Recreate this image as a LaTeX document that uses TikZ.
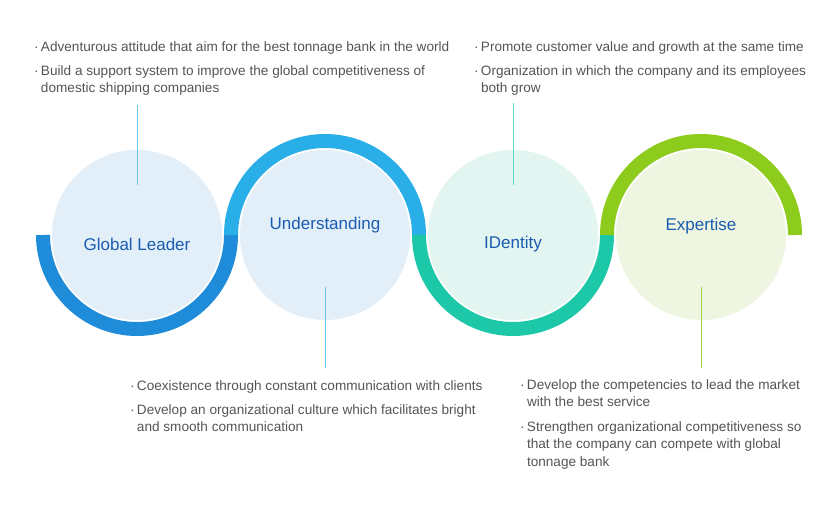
\documentclass[tikz,border=0pt]{standalone}
\usepackage{fontspec}
\setmainfont{Liberation Sans}
\definecolor{txtgray}{HTML}{555555}
\definecolor{lblblue}{HTML}{1A5CB0}
\definecolor{arcone}{HTML}{1E8CD8}
\definecolor{arctwo}{HTML}{2AAEE8}
\definecolor{arcthree}{HTML}{1CC8A8}
\definecolor{arcfour}{HTML}{8DCB1C}
\definecolor{fillone}{HTML}{E2EEF8}
\definecolor{fillthree}{HTML}{E2F5F0}
\definecolor{fillfour}{HTML}{EEF5E0}
\tikzset{
  bub/.style={circle,minimum size=170pt,inner sep=0pt},
  lbl/.style={text=lblblue,font=\fontsize{17}{18}\selectfont},
  ring/.style={line width=14pt},
  stem/.style={line width=0.8pt},
  note/.style={text=txtgray,font=\fontsize{13.6}{17.5}\selectfont,align=left,anchor=north west,inner sep=0pt},
}
\begin{document}
\begin{tikzpicture}[x=1pt,y=1pt]
\useasboundingbox[fill=white] (0,0) rectangle (840,508);
% light discs
\node[bub,fill=fillone] (gl) at (137,273) {};
\node[bub,fill=fillone] (un) at (325,273) {};
\node[bub,fill=fillthree] (id) at (513,273) {};
\node[bub,fill=fillfour] (ex) at (701,273) {};
% rings
\draw[ring,arcone] (43,273) arc (180:360:94);
\draw[ring,arctwo] (231,273) arc (180:0:94);
\draw[ring,arcthree] (419,273) arc (180:360:94);
\draw[ring,arcfour] (607,273) arc (180:0:94);
% labels
\node[lbl] at (137,264) {Global Leader};
\node[lbl] at (325,283) {Understanding};
\node[lbl] at (513,264) {IDentity};
\node[lbl] at (701,282) {Expertise};
% stems
\coordinate (gltop) at (137,403);
\coordinate (untop) at (325,140);
\coordinate (idtop) at (513,405);
\coordinate (extop) at (701,140);
\draw[stem,arctwo!70] (gltop) -- (137,323);
\draw[stem,arctwo!70] (untop) -- (325,221);
\draw[stem,arcthree!70] (idtop) -- (513,323);
\draw[stem,arcfour!80] (extop) -- (701,221);
% notes
\node[note] (n1) at (34,467) {·\,Adventurous attitude that aim for the best tonnage bank in the world};
\node[note] (n2) at (34,443) {·\,Build a support system to improve the global competitiveness of\\\hphantom{·\,}domestic shipping companies};
\node[note] (n3) at (474,467) {·\,Promote customer value and growth at the same time};
\node[note] (n4) at (474,443) {·\,Organization in which the company and its employees\\\hphantom{·\,}both grow};
\node[note] (n5) at (130,128) {·\,Coexistence through constant communication with clients};
\node[note] (n6) at (130,104) {·\,Develop an organizational culture which facilitates bright\\\hphantom{·\,}and smooth communication};
\node[note] (n7) at (520,129) {·\,Develop the competencies to lead the market\\\hphantom{·\,}with the best service};
\node[note] (n8) at (520,87) {·\,Strengthen organizational competitiveness so\\\hphantom{·\,}that the company can compete with global\\\hphantom{·\,}tonnage bank};
\end{tikzpicture}
\end{document}
